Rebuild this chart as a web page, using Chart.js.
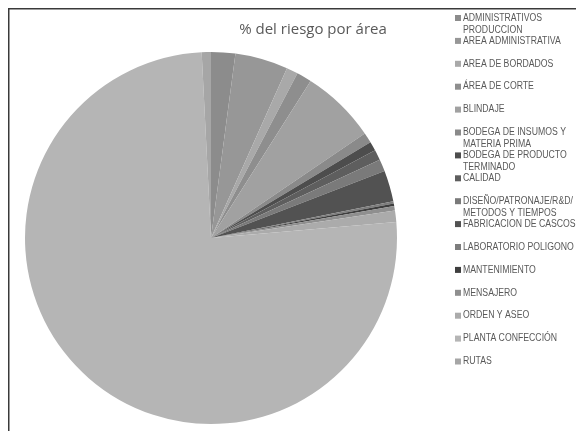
<!DOCTYPE html>
<html>
<head>
<meta charset="utf-8">
<script src="https://cdn.jsdelivr.net/npm/chart.js@4.4.0/dist/chart.umd.min.js"></script>
<style>
html,body{margin:0;padding:0;background:#fff;}
#wrap{position:relative;width:576px;height:431px;}
</style>
</head>
<body>
<div id="wrap"><canvas id="c" width="576" height="431"></canvas></div>
<script>
const categories = [
  ["ADMINISTRATIVOS", "PRODUCCION"],
  ["AREA ADMINISTRATIVA"],
  ["AREA DE BORDADOS"],
  ["ÁREA DE CORTE"],
  ["BLINDAJE"],
  ["BODEGA DE INSUMOS Y", "MATERIA PRIMA"],
  ["BODEGA DE PRODUCTO", "TERMINADO"],
  ["CALIDAD"],
  ["DISEÑO/PATRONAJE/R&D/", "METODOS Y TIEMPOS"],
  ["FABRICACION DE CASCOS"],
  ["LABORATORIO POLIGONO"],
  ["MANTENIMIENTO"],
  ["MENSAJERO"],
  ["ORDEN Y ASEO"],
  ["PLANTA CONFECCIÓN"],
  ["RUTAS"]
];
const riskPercent = [2.1, 4.6, 1.0, 1.3, 6.5, 0.9, 0.8, 0.9, 1.05, 2.7, 0.2, 0.2, 0.4, 1.0, 75.6, 0.8];
const sliceColors = ["#8c8c8c","#979797","#a9a9a9","#8e8e8e","#a1a1a1","#8a8a8a","#4d4d4d","#5e5e5e",
                     "#7a7a7a","#525252","#7d7d7d","#3e3e3e","#8f8f8f","#ababab","#b5b5b5","#a6a6a6"];
const titleText = "% del riesgo por área";

const decor = {
  id: 'decor',
  beforeDraw(chart) {
    const ctx = chart.ctx;
    ctx.save();
    ctx.fillStyle = '#fff';
    ctx.fillRect(0, 0, chart.width, chart.height);
    ctx.restore();
  },
  afterDraw(chart) {
    const ctx = chart.ctx;
    ctx.save();
    // frame
    ctx.strokeStyle = '#3a3a3a';
    ctx.lineWidth = 1.5;
    ctx.beginPath();
    ctx.moveTo(8.75, chart.height + 2);
    ctx.lineTo(8.75, 8.75);
    ctx.lineTo(chart.width + 2, 8.75);
    ctx.stroke();
    // title
    ctx.fillStyle = '#595959';
    ctx.font = '15px "Open Sans", sans-serif';
    ctx.textAlign = 'center';
    ctx.textBaseline = 'middle';
    ctx.fillText(titleText, 313, 30);
    // legend
    ctx.font = '10px "Liberation Sans", sans-serif';
    ctx.textAlign = 'left';
    ctx.textBaseline = 'middle';
    categories.forEach((lines, i) => {
      const y = 18 + i * 22.9;
      ctx.fillStyle = sliceColors[i];
      ctx.fillRect(455, y - 3, 6, 6);
      ctx.fillStyle = '#595959';
      lines.forEach((t, j) => {
        ctx.save();
        ctx.translate(463, y + j * 12);
        ctx.scale(0.87, 1);
        ctx.fillText(t, 0, 0);
        ctx.restore();
      });
    });
    ctx.restore();
  }
};

new Chart(document.getElementById('c'), {
  type: 'pie',
  data: {
    labels: categories.map(l => l.join(' ')),
    datasets: [{
      data: riskPercent,
      backgroundColor: sliceColors,
      borderWidth: 0
    }]
  },
  options: {
    responsive: false,
    animation: false,
    layout: { padding: { left: 25, right: 179, top: 52, bottom: 7 } },
    plugins: {
      legend: { display: false },
      title: { display: false },
      tooltip: { enabled: false }
    }
  },
  plugins: [decor]
});
</script>
</body>
</html>
